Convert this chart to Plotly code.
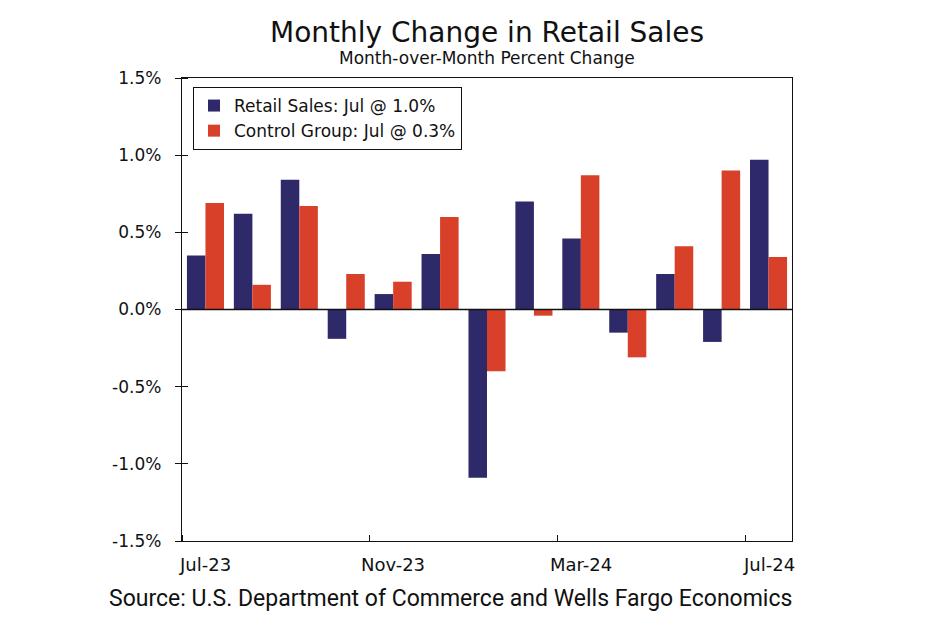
import plotly.graph_objects as go

months = ["Jul-23", "Aug-23", "Sep-23", "Oct-23", "Nov-23", "Dec-23", "Jan-24",
          "Feb-24", "Mar-24", "Apr-24", "May-24", "Jun-24", "Jul-24"]
retail_sales = [0.35, 0.62, 0.84, -0.19, 0.10, 0.36, -1.09, 0.70, 0.46, -0.15, 0.23, -0.21, 0.97]
control_group = [0.69, 0.16, 0.67, 0.23, 0.18, 0.60, -0.40, -0.04, 0.87, -0.31, 0.41, 0.90, 0.34]
label_months = ["Jul-23", "Nov-23", "Mar-24", "Jul-24"]
y_ticks = [-1.5, -1.0, -0.5, 0.0, 0.5, 1.0, 1.5]

FONT = "DejaVu Sans, Verdana, sans-serif"
BLUE = "#2E2968"
RED = "#D9402A"
INK = "#111"

# plot area in pixels
L, R, T, B = 182, 792, 78, 541
W, H = 950, 630


def px_y(py):
    return (B - py) / float(B - T)


def px_x(px):
    return (px - L) / float(R - L)


xpos = list(range(len(months)))
fig = go.Figure()
fig.add_trace(go.Bar(x=xpos, y=retail_sales, name="Retail Sales: Jul @ 1.0%",
                     marker=dict(color=BLUE, line=dict(width=0))))
fig.add_trace(go.Bar(x=xpos, y=control_group, name="Control Group: Jul @ 0.3%",
                     marker=dict(color=RED, line=dict(width=0))))

label_pos = [months.index(m) for m in label_months]
boundaries = [p - 0.5 for p in label_pos]

yaxis_common = dict(
    range=[-1.5, 1.5], tickvals=y_ticks, ticktext=[f"{v:.1f}%" for v in y_ticks],
    showgrid=False, zeroline=False, ticks="outside", ticklen=6, tickcolor=INK,
    ticklabelstandoff=10,
    tickfont=dict(family=FONT, size=17, color=INK),
    minor=dict(tickvals=y_ticks, ticks="inside", ticklen=6, tickcolor=INK, showgrid=False),
)

fig.update_layout(
    width=W, height=H,
    margin=dict(l=L, r=W - R, t=T, b=H - B),
    paper_bgcolor="white", plot_bgcolor="white",
    barmode="group", bargap=0.21, bargroupgap=0.0,
    font=dict(family=FONT, color=INK),
    xaxis=dict(
        range=[-0.5, len(months) - 0.5], tickvals=boundaries, ticktext=["" for _ in boundaries],
        ticks="outside", ticklen=6, tickcolor=INK,
        minor=dict(tickvals=boundaries, ticks="inside", ticklen=6, tickcolor=INK, showgrid=False),
        showgrid=False, zeroline=False, showline=True, linecolor=INK, linewidth=1.3,
        mirror=True,
    ),
    yaxis=dict(**yaxis_common, showline=True, linecolor=INK, linewidth=1.3, mirror=True),
    yaxis2=dict(**yaxis_common, overlaying="y", side="right", anchor="x",
                showline=True, linecolor=INK, linewidth=1.3),
    legend=dict(
        x=px_x(193), y=px_y(87), xanchor="left", yanchor="top",
        bgcolor="white", bordercolor=INK, borderwidth=1,
        font=dict(family=FONT, size=17, color=INK),
        itemwidth=30, tracegroupgap=0,
    ),
    showlegend=True,
)

fig.add_hline(y=0, line=dict(color=INK, width=1.5))

anns = []
for m, p in zip(label_months, label_pos):
    anns.append(dict(x=p, y=0, xref="x", yref="paper", yshift=-11,
                     text=m, showarrow=False, xanchor="center", yanchor="top",
                     font=dict(family=FONT, size=18, color=INK)))
anns.append(dict(x=px_x(487), y=px_y(32), xref="paper", yref="paper",
                 text="Monthly Change in Retail Sales",
                 showarrow=False, xanchor="center", yanchor="middle",
                 font=dict(family=FONT, size=28, color=INK)))
anns.append(dict(x=px_x(487), y=px_y(58), xref="paper", yref="paper",
                 text="Month-over-Month Percent Change",
                 showarrow=False, xanchor="center", yanchor="middle",
                 font=dict(family=FONT, size=17, color=INK)))
anns.append(dict(x=px_x(450), y=px_y(598), xref="paper", yref="paper",
                 text="Source: U.S. Department of Commerce and Wells Fargo Economics",
                 showarrow=False, xanchor="center", yanchor="middle",
                 font=dict(family="Roboto, sans-serif", size=23, color=INK)))
fig.update_layout(annotations=anns)

fig.write_html("out.html")
